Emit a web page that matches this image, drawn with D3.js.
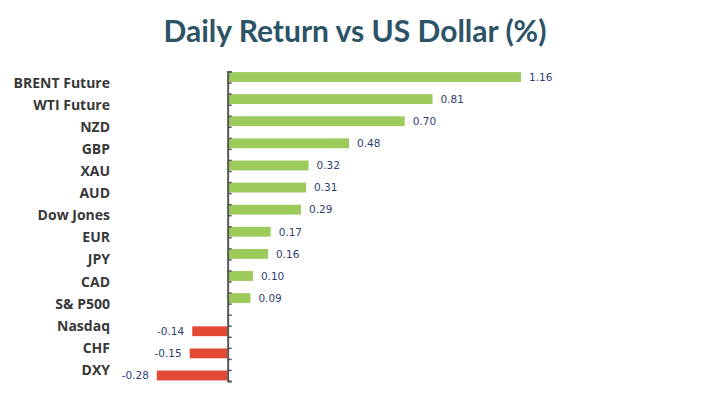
<!DOCTYPE html>
<html lang="en">
<head>
    <meta charset="utf-8">
    <title>Daily Return vs US Dollar</title>
    <script src="https://d3js.org/d3.v7.min.js"></script>
    <style>
        body { margin: 0; background: #ffffff; }
    </style>
</head>
<body>
<div id="chart"></div>

<script>
    // Data, top to bottom as drawn
    var categories = ["BRENT Future", "WTI Future", "NZD", "GBP", "XAU", "AUD", "Dow Jones",
        "EUR", "JPY", "CAD", "S& P500", "Nasdaq", "CHF", "DXY"]
    var returns = [1.16, 0.81, 0.70, 0.48, 0.32, 0.31, 0.29, 0.17, 0.16, 0.10, 0.09, -0.14, -0.15, -0.28]
    var valueLabels = ["1.16", "0.81", "0.70", "0.48", "0.32", "0.31", "0.29", "0.17", "0.16", "0.10",
        "0.09", "-0.14", "-0.15", "-0.28"]
    // gains and losses sit in two separate slots of each row
    var series = ["gain", "loss"]

    var W = 712, H = 398
    var svg = d3.select("#chart").append("svg")
        .attr("width", W)
        .attr("height", H)

    // title
    svg.append("text")
        .attr("x", 355)
        .attr("y", 42)
        .attr("text-anchor", "middle")
        .style("font-family", "Lato, 'Open Sans', sans-serif")
        .style("font-weight", "bold")
        .style("font-size", "30px")
        .style("fill", "#2c5366")
        .text("Daily Return vs US Dollar (%)")

    // scales
    var x = d3.scaleLinear()
        .domain([-0.9, 1.915])
        .range([0, W])

    var y = d3.scaleBand()
        .domain(categories)
        .range([71.5, 381])
        .padding(0)

    var ySlot = d3.scaleBand()
        .domain(series)
        .range([0, y.bandwidth()])
        .padding(0)

    // tick positions on every slot edge
    var yTick = d3.scaleLinear()
        .domain([0, categories.length * series.length])
        .range(y.range())

    var rows = categories.map(function (c, i) {
        return { cat: c, value: returns[i], label: valueLabels[i], s: returns[i] >= 0 ? "gain" : "loss" }
    })

    // bars
    svg.selectAll("rect.bar")
        .data(rows)
        .enter()
        .append("rect")
        .attr("class", "bar")
        .attr("x", d => x(Math.min(0, d.value)))
        .attr("y", d => y(d.cat) + ySlot(d.s) + 0.6)
        .attr("width", d => Math.abs(x(d.value) - x(0)))
        .attr("height", ySlot.bandwidth() - 1.2)
        .attr("fill", d => d.value >= 0 ? "#9ccb5c" : "#e34a36")

    // value labels
    svg.selectAll("text.val")
        .data(rows)
        .enter()
        .append("text")
        .attr("class", "val")
        .attr("x", d => d.value >= 0 ? x(d.value) + 8 : x(d.value) - 8)
        .attr("y", d => y(d.cat) + ySlot(d.s) + ySlot.bandwidth() / 2)
        .attr("dy", "0.36em")
        .attr("text-anchor", d => d.value >= 0 ? "start" : "end")
        .style("font-family", "'DejaVu Sans', Verdana, sans-serif")
        .style("font-size", "10.5px")
        .style("fill", "#2e4272")
        .text(d => d.label)

    // category labels
    svg.selectAll("text.cat")
        .data(categories)
        .enter()
        .append("text")
        .attr("class", "cat")
        .attr("x", 110)
        .attr("y", d => y(d) + y.bandwidth() / 2)
        .attr("dy", "0.36em")
        .attr("text-anchor", "end")
        .style("font-family", "'Open Sans', sans-serif")
        .style("font-weight", "bold")
        .style("font-size", "14px")
        .style("fill", "#383838")
        .text(d => d)

    // vertical axis at zero
    var axis = svg.append("g")
        .attr("transform", "translate(" + x(0) + ",0)")
        .call(d3.axisRight(yTick)
            .tickValues(d3.range(categories.length * series.length + 1))
            .tickSize(4)
            .tickFormat(""))
    axis.select(".domain").attr("stroke", "#595959").attr("stroke-width", 2)
    axis.selectAll(".tick line").attr("stroke", "#595959").attr("stroke-width", 1.5)
</script>
</body>
</html>
